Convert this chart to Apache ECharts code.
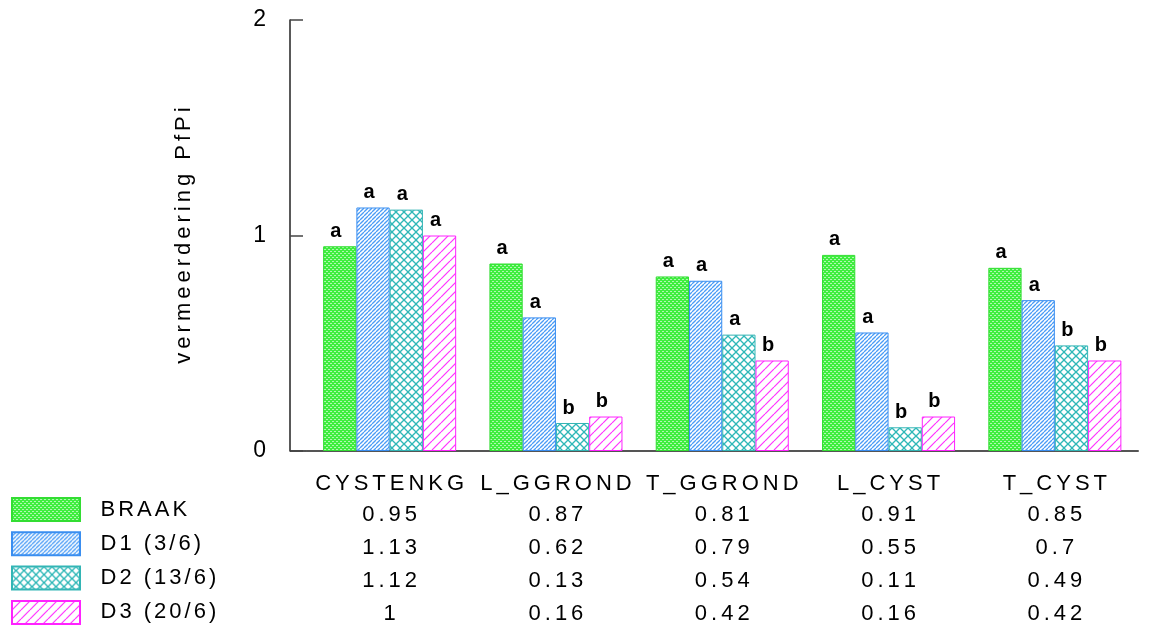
<!DOCTYPE html>
<html>
<head>
<meta charset="utf-8">
<script src="https://cdn.jsdelivr.net/npm/echarts@6/dist/echarts.min.js"></script>
<style>html,body{margin:0;padding:0;background:#fff;}#c{width:1158px;height:630px;}</style>
</head>
<body>
<div id="c"></div>
<script>
// ---- data ----
var categories = ['CYSTENKG', 'L_GGROND', 'T_GGROND', 'L_CYST', 'T_CYST'];
var seriesNames = ['BRAAK', 'D1 (3/6)', 'D2 (13/6)', 'D3 (20/6)'];
var braak = [0.95, 0.87, 0.81, 0.91, 0.85];
var d1 = [1.13, 0.62, 0.79, 0.55, 0.7];
var d2 = [1.12, 0.13, 0.54, 0.11, 0.49];
var d3 = [1, 0.16, 0.42, 0.16, 0.42];
var braakLetters = ['a', 'a', 'a', 'a', 'a'];
var d1Letters = ['a', 'a', 'a', 'a', 'a'];
var d2Letters = ['a', 'b', 'a', 'b', 'b'];
var d3Letters = ['a', 'b', 'b', 'b', 'b'];
var yTicks = [0, 1, 2];
var yName = 'vermeerdering PfPi';

var FONT = '"Liberation Sans", Arial, Helvetica, sans-serif';

// ---- fill patterns ----
function tile(n, draw) {
  var c = document.createElement('canvas');
  c.width = n; c.height = n;
  var g = c.getContext('2d');
  draw(g, n);
  return { image: c, repeat: 'repeat' };
}
function slash(g, n, color, lw) {
  g.strokeStyle = color; g.lineWidth = lw;
  for (var k = -1; k <= 1; k++) { g.beginPath(); g.moveTo(k * n, n); g.lineTo(k * n + n, 0); g.stroke(); }
}
function backslash(g, n, color, lw) {
  g.strokeStyle = color; g.lineWidth = lw;
  for (var k = -1; k <= 1; k++) { g.beginPath(); g.moveTo(k * n, 0); g.lineTo(k * n + n, n); g.stroke(); }
}
var patBraak = tile(4, function (g, n) {
  g.fillStyle = '#3fee3f'; g.fillRect(0, 0, n, n);
  g.fillStyle = 'rgba(255,255,255,0.6)';
  g.fillRect(0, 1, 2, 1); g.fillRect(2, 3, 2, 1);
});
var patD1 = tile(4, function (g, n) {
  g.fillStyle = '#fff'; g.fillRect(0, 0, n, n);
  slash(g, n, '#4a9cf6', 1.3);
});
var patD2 = tile(8, function (g, n) {
  g.fillStyle = '#fff'; g.fillRect(0, 0, n, n);
  slash(g, n, '#2fb8b8', 1.3);
  backslash(g, n, '#2fb8b8', 1.3);
});
var patD3 = tile(9, function (g, n) {
  g.fillStyle = '#fff'; g.fillRect(0, 0, n, n);
  slash(g, n, '#ff33ff', 1.2);
});

// spaced (tracked) text through rich tokens
function spaced(s, style) {
  return String(s).split('').map(function (ch) { return '{' + style + '|' + ch + '}'; }).join('');
}

var values = [braak, d1, d2, d3];
var letters = [braakLetters, d1Letters, d2Letters, d3Letters];
var fills = [patBraak, patD1, patD2, patD3];
var borders = ['#33dd33', '#3a8ef0', '#33b5b5', '#ff22ff'];

var series = seriesNames.map(function (name, i) {
  return {
    name: name,
    type: 'bar',
    data: values[i],
    barGap: '0%',
    barCategoryGap: '20%',
    itemStyle: { color: fills[i], borderColor: borders[i], borderWidth: 1 },
    label: {
      show: true,
      position: 'top',
      distance: 5,
      offset: [-4, 0],
      color: '#000',
      fontSize: 20,
      fontWeight: 'bold',
      fontFamily: FONT,
      formatter: function (p) { return letters[i][p.dataIndex]; }
    }
  };
});

var chart = echarts.init(document.getElementById('c'), null, { renderer: 'canvas' });
chart.setOption({
  animation: false,
  backgroundColor: '#fff',
  grid: { left: 306.5, right: 20, top: 20, bottom: 179, containLabel: false },
  legend: {
    orient: 'vertical',
    left: 11,
    top: 497,
    height: 150,
    padding: 0,
    itemWidth: 68,
    itemHeight: 23,
    itemGap: 9.3,
    icon: 'rect',
    selectedMode: false,
    data: seriesNames,
    formatter: function (name) { return spaced(name, 'l'); },
    textStyle: {
      padding: [0, 0, 0, 14],
      rich: { l: { fontSize: 22, lineHeight: 23, padding: [0, 1.5], color: '#000', fontFamily: FONT } }
    }
  },
  xAxis: {
    type: 'category',
    data: categories,
    axisTick: { show: false },
    axisLine: { show: true, lineStyle: { color: '#555', width: 2 } },
    axisLabel: {
      interval: 0,
      margin: 19,
      color: '#000',
      formatter: function (value, idx) {
        var lines = [spaced(value, 'h')];
        for (var k = 0; k < values.length; k++) lines.push(spaced(String(values[k][idx]), 'v'));
        return lines.join('\n');
      },
      rich: {
        h: { fontSize: 22, lineHeight: 28, padding: [0, 2], color: '#000', fontFamily: FONT },
        v: { fontSize: 22, lineHeight: 33, padding: [0, 2], color: '#000', fontFamily: FONT }
      }
    }
  },
  yAxis: {
    type: 'value',
    min: yTicks[0],
    max: yTicks[yTicks.length - 1],
    interval: 1,
    offset: 16.5,
    name: spaced(yName, 'n'),
    nameLocation: 'middle',
    nameGap: 95,
    nameTextStyle: {
      rich: { n: { fontSize: 22, padding: [0, 2], color: '#000', fontFamily: FONT } }
    },
    splitLine: { show: false },
    axisLine: { show: true, lineStyle: { color: '#222', width: 1.5 } },
    axisTick: { show: true, inside: true, length: 13, lineStyle: { color: '#444', width: 1.5 } },
    axisLabel: { margin: 24, fontSize: 23, color: '#000', fontFamily: FONT }
  },
  series: series
});

// extend the baseline from the offset y axis to the grid start
var y0 = chart.convertToPixel({ yAxisIndex: 0 }, 0);
var xStart = chart.convertToPixel({ xAxisIndex: 0 }, categories[0]) - 83.2;
chart.setOption({
  graphic: [{
    type: 'line',
    silent: true,
    shape: { x1: xStart - 16.5, y1: y0, x2: xStart, y2: y0 },
    style: { stroke: '#555', lineWidth: 2 }
  }]
});
</script>
</body>
</html>
